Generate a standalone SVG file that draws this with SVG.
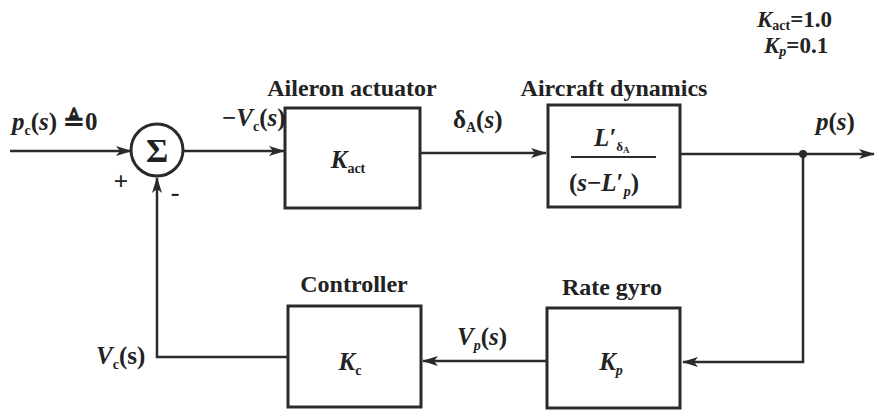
<svg xmlns="http://www.w3.org/2000/svg" width="878" height="410" viewBox="0 0 878 410">
<style>
text{font-family:"Liberation Serif","Times New Roman",Times,serif;font-weight:bold;fill:#222;}
.lbl{font-size:24px;}
.it{font-style:italic;}
.box{fill:#fff;stroke:#2a2a2a;stroke-width:3;}
.ln{fill:none;stroke:#2a2a2a;stroke-width:2.5;}
</style>
<defs>
<marker id="ar" viewBox="0 0 16 10" refX="15" refY="5" markerWidth="16" markerHeight="10" markerUnits="userSpaceOnUse" orient="auto">
<path d="M0,0 L16,5 L0,10 L4,5 Z" fill="#2a2a2a"/>
</marker>
</defs>
<rect width="878" height="410" fill="#fff"/>

<g id="connectors">
<line class="ln" x1="10" y1="151" x2="131" y2="151" marker-end="url(#ar)"/>
<line class="ln" x1="184" y1="151" x2="284" y2="151" marker-end="url(#ar)"/>
<line class="ln" x1="420" y1="153" x2="546" y2="153" marker-end="url(#ar)"/>
<line class="ln" x1="681" y1="154" x2="874" y2="154" marker-end="url(#ar)"/>
<polyline class="ln" points="803,154 803,362 683,362" marker-end="url(#ar)"/>
<line class="ln" x1="547" y1="361" x2="423" y2="361" marker-end="url(#ar)"/>
<polyline class="ln" points="288,357 157,357 157,178" marker-end="url(#ar)"/>
<circle cx="803" cy="154" r="4" fill="#2a2a2a"/>
</g>

<g id="sum">
<circle cx="157" cy="150" r="26" fill="#fff" stroke="#2a2a2a" stroke-width="3"/>
<text x="157" y="162" font-size="34" text-anchor="middle">Σ</text>
<text x="121" y="190" font-size="26" text-anchor="middle">+</text>
<text x="175" y="201" font-size="26" text-anchor="middle">-</text>
</g>

<g id="actuator">
<rect class="box" x="285" y="108" width="135" height="100"/>
<text class="lbl" x="352" y="96" text-anchor="middle">Aileron actuator</text>
<text class="it" x="348" y="168" font-size="25" text-anchor="middle">K<tspan font-size="14" dy="5" style="font-style:normal">act</tspan></text>
</g>

<g id="dynamics">
<rect class="box" x="548" y="105" width="132" height="102"/>
<text class="lbl" x="614" y="96" text-anchor="middle">Aircraft dynamics</text>
<text class="it" x="594" y="146" font-size="25">L′<tspan font-size="13" dy="5" style="font-style:normal">δ<tspan font-size="9" dy="2">A</tspan></tspan></text>
<line x1="571" y1="157" x2="656" y2="157" stroke="#2a2a2a" stroke-width="2"/>
<text x="569" y="191" font-size="25">(<tspan class="it">s</tspan>−<tspan class="it">L</tspan>′<tspan font-size="14" dy="5" class="it">p</tspan><tspan dy="-5">)</tspan></text>
</g>

<g id="controller">
<rect class="box" x="288" y="306" width="133" height="101"/>
<text class="lbl" x="354" y="292" text-anchor="middle">Controller</text>
<text class="it" x="350" y="370" font-size="25" text-anchor="middle">K<tspan font-size="14" dy="5" style="font-style:normal">c</tspan></text>
</g>

<g id="gyro">
<rect class="box" x="547" y="308" width="133" height="100"/>
<text class="lbl" x="612" y="295" text-anchor="middle">Rate gyro</text>
<text class="it" x="611" y="370" font-size="25" text-anchor="middle">K<tspan font-size="14" dy="5">p</tspan></text>
</g>

<g id="labels">
<text x="12" y="130" font-size="25"><tspan class="it">p</tspan><tspan font-size="14" dy="5">c</tspan><tspan dy="-5">(<tspan class="it">s</tspan>)</tspan><tspan font-family="DejaVu Serif" font-size="26" dx="6">≜</tspan>0</text>
<text x="222" y="126" font-size="25">−<tspan class="it">V</tspan><tspan font-size="14" dy="5">c</tspan><tspan dy="-5">(<tspan class="it">s</tspan>)</tspan></text>
<text x="453" y="128" font-size="25">δ<tspan font-size="14" dy="4">A</tspan><tspan dy="-4">(<tspan class="it">s</tspan>)</tspan></text>
<text x="816" y="130" font-size="25"><tspan class="it">p</tspan>(<tspan class="it">s</tspan>)</text>
<text x="96" y="364" font-size="25"><tspan class="it">V</tspan><tspan font-size="14" dy="5">c</tspan><tspan dy="-5">(s)</tspan></text>
<text x="457" y="345" font-size="25"><tspan class="it">V</tspan><tspan font-size="14" dy="5" class="it">p</tspan><tspan dy="-5">(<tspan class="it">s</tspan>)</tspan></text>
<text x="757" y="27" font-size="23"><tspan class="it">K</tspan><tspan font-size="14" dy="3">act</tspan><tspan dy="-3">=1.0</tspan></text>
<text x="764" y="53" font-size="23"><tspan class="it">K</tspan><tspan font-size="14" dy="3" class="it">p</tspan><tspan dy="-3">=0.1</tspan></text>
</g>
</svg>
